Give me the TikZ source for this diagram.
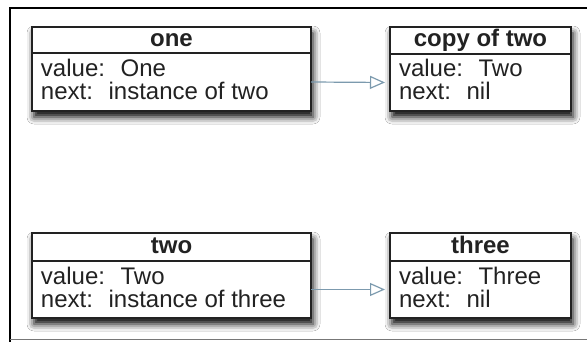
\documentclass[tikz,border=0pt]{standalone}
\usepackage{fontspec}
\setmainfont{Liberation Sans}
\usetikzlibrary{arrows.meta,shadows.blur}
\definecolor{arrowc}{HTML}{7C9AAE}
\definecolor{txt}{HTML}{222222}
\definecolor{framegray}{HTML}{777777}
\begin{document}
\begin{tikzpicture}[x=1pt,y=-1pt,
  every node/.style={inner sep=0pt,outer sep=0pt,text=txt,font=\fontsize{24}{28}\selectfont},
  whole/.style={fill=white,anchor=north west,
    blur shadow={shadow xshift=2pt,shadow yshift=-6pt,shadow blur radius=7pt,shadow opacity=100}},
  titlebox/.style={draw=txt,line width=1.6pt,anchor=north west,text height=17pt,text depth=5pt,font=\fontsize{24}{28}\selectfont\bfseries},
  bodybox/.style={draw=txt,line width=1.6pt,anchor=north west},
  fieldtxt/.style={anchor=base west},
  link/.style={draw=arrowc,line width=1.2pt,-{Triangle[open,length=15pt,width=13pt,line width=1.2pt]},shorten >=5pt}
]
\useasboundingbox (0,0) rectangle (587,341);
\fill[white] (0,0) rectangle (587,341);
% frame of the screenshot
\draw[line width=2pt,black] (10,342) -- (10,8) -- (588,8);
\draw[line width=1pt,framegray] (10,339.5) -- (588,339.5);

% box one
\node[whole,minimum width=279pt,minimum height=84pt] (one) at (32,27) {};
\node[titlebox,minimum width=279pt,minimum height=26pt] (one-t) at (32,27) {one};
\node[bodybox,minimum width=279pt,minimum height=58pt] (one-b) at (32,53) {};
\node[fieldtxt] (one-v) at (41,76) {value:~ One};
\node[fieldtxt] (one-n) at (41,99) {next:~ instance of two};

% box copy of two
\node[whole,minimum width=181pt,minimum height=84pt] (copy) at (390,27) {};
\node[titlebox,minimum width=181pt,minimum height=27pt] (copy-t) at (390,27) {copy of two};
\node[bodybox,minimum width=181pt,minimum height=57pt] (copy-b) at (390,54) {};
\node[fieldtxt] (copy-v) at (399,76) {value:~ Two};
\node[fieldtxt] (copy-n) at (399,99) {next:~ nil};

% box two
\node[whole,minimum width=279pt,minimum height=85pt] (two) at (32,233) {};
\node[titlebox,minimum width=279pt,minimum height=28pt] (two-t) at (32,233) {two};
\node[bodybox,minimum width=279pt,minimum height=57pt] (two-b) at (32,261) {};
\node[fieldtxt] (two-v) at (41,284) {value:~ Two};
\node[fieldtxt] (two-n) at (41,307) {next:~ instance of three};

% box three
\node[whole,minimum width=181pt,minimum height=85pt] (three) at (390,233) {};
\node[titlebox,minimum width=181pt,minimum height=28pt] (three-t) at (390,233) {three};
\node[bodybox,minimum width=181pt,minimum height=57pt] (three-b) at (390,261) {};
\node[fieldtxt] (three-v) at (399,284) {value:~ Three};
\node[fieldtxt] (three-n) at (399,307) {next:~ nil};

% links
\draw[link] (one-b.east) -- (copy-b.west);
\draw[link] (two-b.east) -- (three-b.west);
\end{tikzpicture}
\end{document}
